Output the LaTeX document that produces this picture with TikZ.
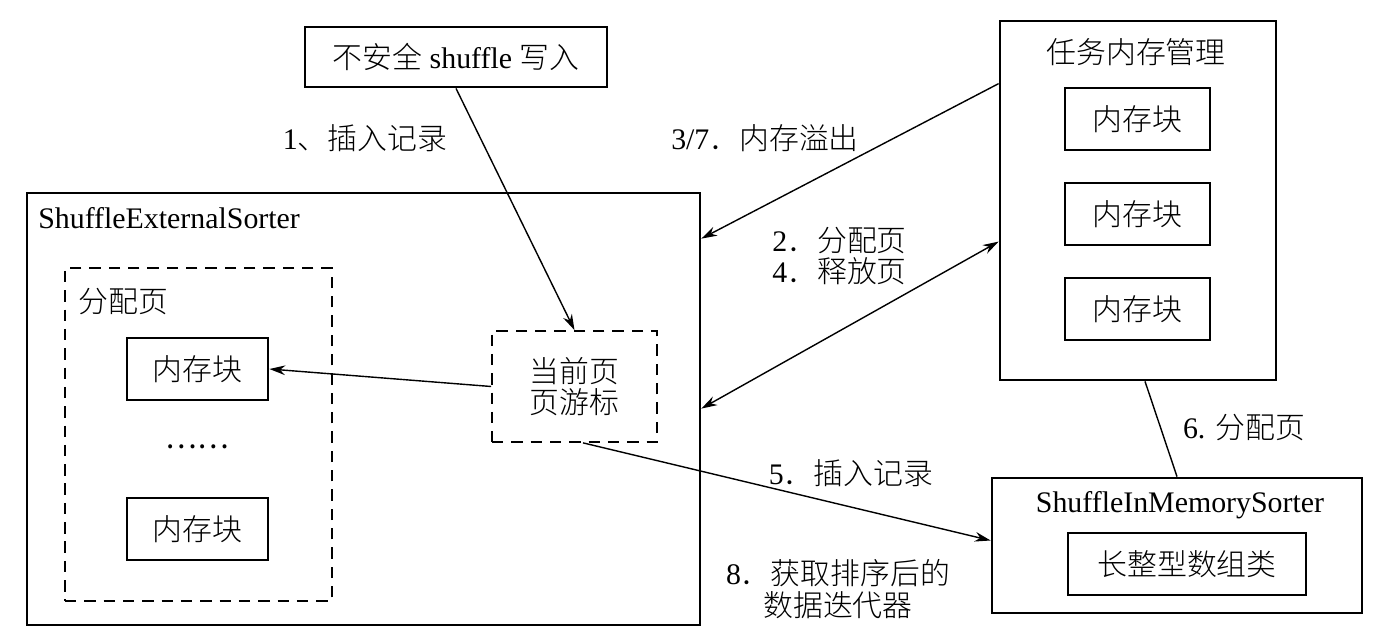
\documentclass[tikz,border=0pt]{standalone}
\usepackage{fontspec}
\setmainfont{Liberation Serif}
\newfontfamily\cjk{Noto Sans CJK SC}[UprightFont={* Light}]
\newfontfamily\cjkdots{Noto Sans CJK SC}
\newcommand{\cn}[1]{{\cjk #1}}
\usetikzlibrary{arrows.meta,positioning,calc}

\tikzset{
  box/.style={draw,line width=1.6pt,inner sep=0pt,align=center},
  dbox/.style={draw,line width=1pt,dash pattern=on 6.5pt off 4.5pt,inner sep=0pt},
  link/.style={line width=0.8pt},
  lbl/.style={inner sep=0pt,align=center}
}

\begin{document}
\begin{tikzpicture}[x=0.02cm,y=-0.02cm,>={Stealth[length=9pt,width=5.5pt]},font=\fontsize{17}{21}\selectfont]
  \useasboundingbox (0,0) rectangle (1375,641);
  % outer containers
  \node[box,minimum width=13.46cm,minimum height=8.64cm] (ext) at (363.5,409) {};
  \node[lbl,anchor=west] (extname) at (38,218) {ShuffleExternalSorter};
  \node[dbox,minimum width=5.34cm,minimum height=6.66cm] (alloc) at (198.5,434.5) {};
  \node[lbl,anchor=west] (allocname) at (78,302) {\cn{分配页}};
  \node[box,minimum width=5.52cm,minimum height=7.18cm] (mgr) at (1138,200.5) {};
  \node[lbl] (mgrname) at (1136,52) {\cn{任务内存管理}};
  \node[box,minimum width=7.4cm,minimum height=2.7cm] (ims) at (1177,545.5) {};
  \node[lbl] (imsname) at (1180,505) {ShuffleInMemorySorter};
  % inner boxes
  \node[box,minimum width=6.04cm,minimum height=1.2cm] (wr) at (456,57) {\cn{不安全} shuffle \cn{写入}};
  \foreach \nm/\yy in {r1/119,r2/214,r3/309}
    \node[box,minimum width=2.9cm,minimum height=1.24cm] (\nm) at (1137.5,\yy) {\cn{内存块}};
  \node[box,minimum width=2.82cm,minimum height=1.24cm] (mb1) at (197.5,369) {\cn{内存块}};
  \node[box,minimum width=2.82cm,minimum height=1.24cm] (mb2) at (197.5,529) {\cn{内存块}};
  \node[lbl] (dots) at (197,447) {{\cjkdots ……}};
  \node[dbox,minimum width=3.3cm,minimum height=2.22cm,align=center,
        font=\fontsize{17}{18}\selectfont] (cur) at (574.5,386.5) {\cn{当前页}\\\cn{页游标}};
  \node[box,minimum width=4.76cm,minimum height=1.24cm] (arr) at (1187,564) {\cn{长整型数组类}};
  % connectors
  \draw[link,->] (wr.south) -- (cur.north);
  \draw[link,->] ([yshift=-1.28cm]mgr.north west) -- ([yshift=-0.94cm]ext.north east);
  \draw[link,<->] ([yshift=-4.34cm]ext.north east) -- ([yshift=-4.44cm]mgr.north west);
  \draw[link,->] (cur.west) -- (mb1.east);
  \draw[link] ([xshift=0.14cm]mgr.south) -- (ims.north);
  \draw[link,->] ([xshift=0.17cm]cur.south) -- ([yshift=0.1cm]ims.west);
  % labels
  \node[lbl] (l1) at (365,138) {1\cn{、插入记录}};
  \node[lbl] (l37) at (765,138) {3/7\cn{．内存溢出}};
  \node[lbl,anchor=west,font=\fontsize{17}{18}\selectfont] (l24) at (772,256) {2\cn{．分配页}\\4\cn{．释放页}};
  \node[lbl] (l6) at (1244,428) {6. \cn{分配页}};
  \node[lbl] (l5) at (851,473) {5\cn{．插入记录}};
  \node[lbl,font=\fontsize{17}{18.5}\selectfont] (l8) at (838,589) {8\cn{．获取排序后的}\\\cn{数据迭代器}};
\end{tikzpicture}
\end{document}
